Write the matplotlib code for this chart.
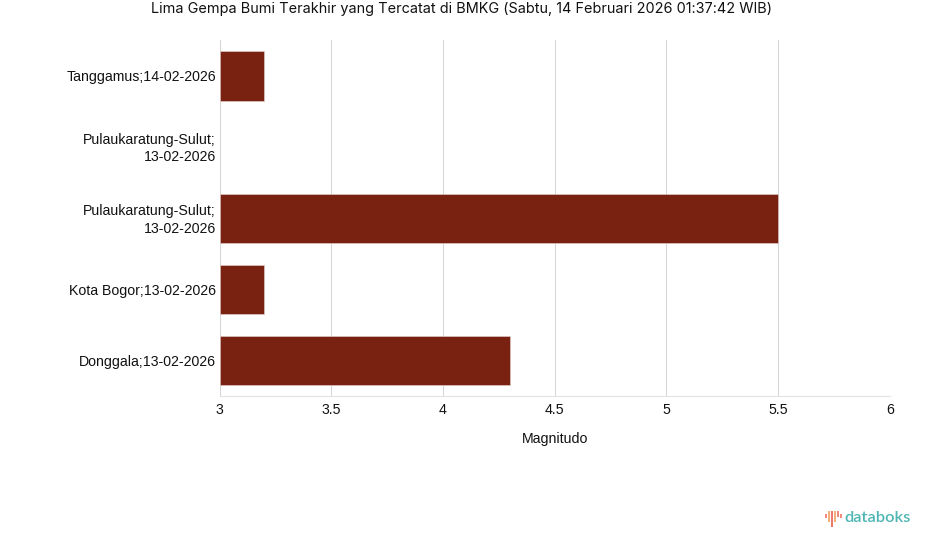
import numpy as np
import matplotlib
matplotlib.use('Agg')
import matplotlib.pyplot as plt
from matplotlib.patches import Rectangle
from matplotlib.transforms import ScaledTranslation

lokasi = ['Tanggamus;14-02-2026', 'Pulaukaratung-Sulut;\n13-02-2026', 'Pulaukaratung-Sulut;\n13-02-2026',
          'Kota Bogor;13-02-2026', 'Donggala;13-02-2026']
magnitudo = [3.2, np.nan, 5.5, 3.2, 4.3]
x_ticks = [3, 3.5, 4, 4.5, 5, 5.5, 6]
x_labels = ['3', '3.5', '4', '4.5', '5', '5.5', '6']
judul = 'Lima Gempa Bumi Terakhir yang Tercatat di BMKG (Sabtu, 14 Februari 2026 01:37:42 WIB)'

W, H = 925, 547
fig = plt.figure(figsize=(W / 100, H / 100), dpi=100, facecolor='white')
ax = fig.add_axes([219.7 / W, 1 - 396.3 / H, 670 / W, 356 / H])

y = np.arange(len(lokasi))
ax.barh(y, np.array(magnitudo) - 3, left=3, height=0.695, color='#7a2211', edgecolor='#e6d2ce', linewidth=0.4, zorder=3)
ax.set_xlim(3, 6)
ax.set_ylim(len(lokasi) - 0.5, -0.5)

ax.set_xticks(x_ticks)
ax.set_xticklabels(x_labels, family='Liberation Sans', fontsize=10.2, color='#111111')
ax.set_yticks(y)
ax.set_yticklabels(lokasi, family='Liberation Sans', fontsize=10.2, color='#111111', linespacing=1.3)
ax.tick_params(axis='both', length=0)
ax.tick_params(axis='x', pad=4.5)
ax.tick_params(axis='y', pad=2.7)
ax.grid(axis='x', color='#d6d6d6', linewidth=0.75, zorder=0)
ax.get_xgridlines()[-1].set_color('#ececec')
for s in ['top', 'right', 'left']:
    ax.spines[s].set_visible(False)
ax.spines['bottom'].set_color('#e2e2e2')
ax.spines['bottom'].set_linewidth(0.75)

# label dua baris sedikit lebih tinggi
for lbl, nama in zip(ax.get_yticklabels(), lokasi):
    if '\n' in nama:
        lbl.set_transform(lbl.get_transform() + ScaledTranslation(0, 1.5 / 100, fig.dpi_scale_trans))

fig.text(555 / W, 1 - 438.5 / H, 'Magnitudo', ha='center', va='center', family='Liberation Sans', fontsize=10.2, color='#111111')
fig.text(462 / W, 1 - 9 / H, judul, ha='center', va='center', family='Inter', fontsize=10.42, color='#111111')

# logo databoks
logo_x = [825, 828, 831, 834, 837, 840]
logo_top = [514, 511, 511, 511, 511, 514]
logo_bot = [518, 522, 527, 522, 517, 518]
logo_warna = ['#f28b7d', '#f3b27a', '#ee7a6b', '#f3b27a', '#f28b7d', '#f28b7d']
for lx, t, b, c in zip(logo_x, logo_top, logo_bot, logo_warna):
    fig.add_artist(Rectangle((lx / W, 1 - b / H), 1.8 / W, (b - t) / H, transform=fig.transFigure, color=c, lw=0))
fig.text(844.5 / W, 1 - 518.5 / H, 'databoks', ha='left', va='center', family='Lato', fontsize=11.8, weight='semibold', color='#4db6b2')

plt.savefig('out.png', dpi=100)
